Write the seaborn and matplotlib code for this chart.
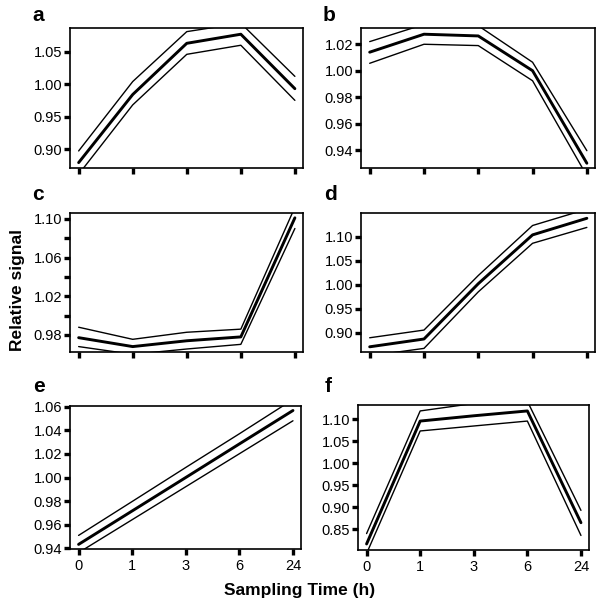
import numpy as np
import pandas as pd
import matplotlib
matplotlib.use("Agg")
import matplotlib.pyplot as plt
import seaborn as sns

# ---------------- data ----------------
times = ["0", "1", "3", "6", "24"]
panel_names = ["a", "b", "c", "d", "e", "f"]

a_mean = [0.879, 0.984, 1.063, 1.077, 0.993]
a_upper = [0.897, 1.004, 1.081, 1.094, 1.012]
a_lower = [0.861, 0.968, 1.046, 1.060, 0.975]

b_mean = [1.014, 1.0276, 1.0263, 1.000, 0.930]
b_upper = [1.022, 1.035, 1.034, 1.0064, 0.9395]
b_lower = [1.0056, 1.020, 1.019, 0.9924, 0.9205]

c_mean = [0.9772, 0.968, 0.974, 0.978, 1.101]
c_upper = [0.988, 0.9755, 0.9828, 0.986, 1.112]
c_lower = [0.968, 0.960, 0.9655, 0.9703, 1.090]

d_mean = [0.8708, 0.887, 1.002, 1.1035, 1.138]
d_upper = [0.8896, 0.9056, 1.019, 1.123, 1.157]
d_lower = [0.852, 0.8675, 0.985, 1.086, 1.119]

e_mean = [0.9434, 0.9717, 1.000, 1.0284, 1.0567]
e_upper = [0.951, 0.9797, 1.0085, 1.037, 1.066]
e_lower = [0.9364, 0.9643, 0.9922, 1.0201, 1.048]

f_mean = [0.8167, 1.096, 1.108, 1.119, 0.865]
f_upper = [0.8403, 1.119, 1.136, 1.141, 0.893]
f_lower = [0.795, 1.0735, 1.0848, 1.096, 0.836]

series = {
    "a": (a_mean, a_upper, a_lower),
    "b": (b_mean, b_upper, b_lower),
    "c": (c_mean, c_upper, c_lower),
    "d": (d_mean, d_upper, d_lower),
    "e": (e_mean, e_upper, e_lower),
    "f": (f_mean, f_upper, f_lower),
}

# y tick values and which are labelled
yticks = {
    "a": [0.90, 0.95, 1.00, 1.05],
    "b": [0.94, 0.96, 0.98, 1.00, 1.02],
    "c": [0.98, 1.00, 1.02, 1.04, 1.06, 1.08, 1.10],
    "d": [0.90, 0.95, 1.00, 1.05, 1.10],
    "e": [0.94, 0.96, 0.98, 1.00, 1.02, 1.04, 1.06],
    "f": [0.85, 0.90, 0.95, 1.00, 1.05, 1.10],
}
ylabels_c = ["0.98", "", "1.02", "", "1.06", "", "1.10"]
ylims = {
    "a": (0.8707, 1.0866),
    "b": (0.9264, 1.0323),
    "c": (0.9624, 1.106),
    "d": (0.860, 1.149),
    "e": (0.9395, 1.0605),
    "f": (0.803, 1.1325),
}

# ---------------- layout (pixels) ----------------
W, H = 602, 607
boxes = {  # left, right, top, bottom in pixels
    "a": (70, 303, 28, 168),
    "b": (361, 595, 28, 168),
    "c": (70, 303, 213, 352),
    "d": (361, 595, 213, 352),
    "e": (70, 301, 406, 549),
    "f": (358, 589, 405, 550),
}
label_pos = {  # x, baseline y in pixels
    "a": (32, 21),
    "b": (323, 21),
    "c": (32, 200),
    "d": (324, 200),
    "e": (33, 392),
    "f": (325, 392),
}

sns.set_style("ticks")
plt.rcParams["font.family"] = ["Liberation Sans", "DejaVu Sans"]
plt.rcParams["text.color"] = "black"
plt.rcParams["xtick.color"] = "black"
plt.rcParams["ytick.color"] = "black"
plt.rcParams["axes.labelcolor"] = "black"

fig = plt.figure(figsize=(W / 100, H / 100), dpi=100)

pos = list(range(len(times)))

for name in panel_names:
    l, r, t, b = boxes[name]
    ax = fig.add_axes([l / W, 1 - b / H, (r - l) / W, (b - t) / H])
    mean, up, lo = series[name]
    df = pd.DataFrame({"pos": pos + pos + pos,
                       "value": list(mean) + list(up) + list(lo),
                       "kind": ["mean"] * 5 + ["upper"] * 5 + ["lower"] * 5})
    sns.lineplot(data=df[df.kind == "upper"], x="pos", y="value", color="black",
                 lw=1.0, ax=ax, legend=False)
    sns.lineplot(data=df[df.kind == "lower"], x="pos", y="value", color="black",
                 lw=1.0, ax=ax, legend=False)
    sns.lineplot(data=df[df.kind == "mean"], x="pos", y="value", color="black",
                 lw=2.1, ax=ax, legend=False)
    ax.set_xlim(-0.16, 4.15)
    ax.set_ylim(*ylims[name])
    ax.set_xticks(pos)
    if name in ("e", "f"):
        ax.set_xticklabels(times)
    else:
        ax.set_xticklabels([])
    ax.set_yticks(yticks[name])
    if name == "c":
        ax.set_yticklabels(ylabels_c)
    else:
        ax.set_yticklabels([f"{v:.2f}" for v in yticks[name]])
    ax.set_xlabel("")
    ax.set_ylabel("")
    for s in ax.spines.values():
        s.set_visible(True)
        s.set_linewidth(1.2)
        s.set_color("black")
    ax.tick_params(axis="both", direction="out", length=4, width=2.4,
                   color="black", labelcolor="black", labelsize=10.5, pad=1.5)
    ax.tick_params(axis="x", pad=3)
    lx, ly = label_pos[name]
    fig.text(lx / W, 1 - ly / H, name, fontsize=15, fontweight="bold",
             ha="left", va="baseline", color="black")

fig.text(18 / W, 1 - 290 / H, "Relative signal", rotation=90, fontsize=12.5,
         fontweight="bold", ha="center", va="center", color="black")
fig.text(300 / W, 1 - 590 / H, "Sampling Time (h)", fontsize=12.5,
         fontweight="bold", ha="center", va="center", color="black")

fig.savefig("out.png", dpi=100)
